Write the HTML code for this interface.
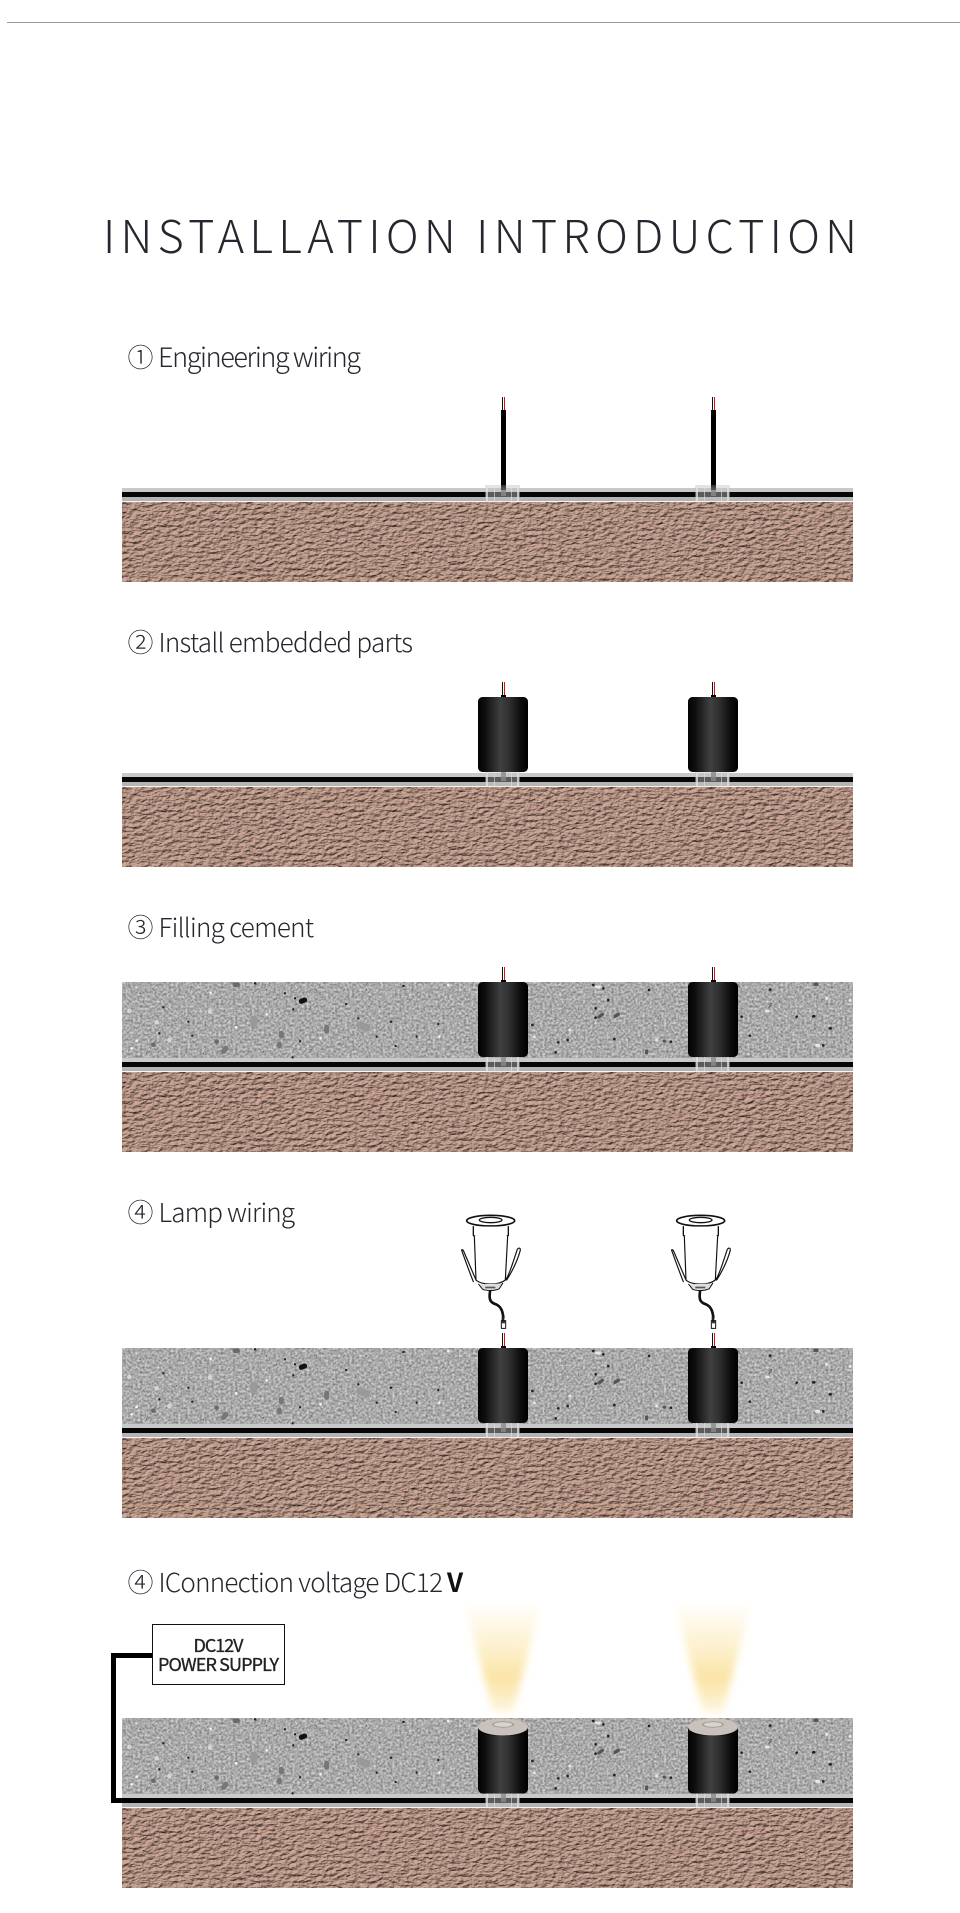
<!DOCTYPE html>
<html><head><meta charset="utf-8"><style>
html,body{margin:0;padding:0;background:#fff}
svg{display:block}
text{font-family:"Liberation Sans","Noto Sans CJK JP",sans-serif}
.c{font-family:"Noto Sans CJK JP","Noto Sans CJK SC",sans-serif;font-weight:300;fill:#26262e}
</style></head><body>
<svg xmlns="http://www.w3.org/2000/svg" width="960" height="1913" viewBox="0 0 960 1913">
<defs>
<linearGradient id="cy" x1="0" x2="1" y1="0" y2="0">
<stop offset="0" stop-color="#030303"/><stop offset=".14" stop-color="#0e0e0e"/><stop offset=".45" stop-color="#404040"/><stop offset=".62" stop-color="#303030"/><stop offset=".86" stop-color="#0c0c0c"/><stop offset="1" stop-color="#000"/>
</linearGradient>
<linearGradient id="beam" x1="0" x2="0" y1="0" y2="1">
<stop offset="0" stop-color="#fcecc0" stop-opacity="0"/><stop offset=".25" stop-color="#fcecc0" stop-opacity=".5"/><stop offset=".68" stop-color="#fae2a0" stop-opacity=".95"/><stop offset=".88" stop-color="#fbe8b4" stop-opacity=".75"/><stop offset="1" stop-color="#fdf0c8" stop-opacity=".6"/>
</linearGradient>
<filter id="bl" x="-40%" y="-20%" width="180%" height="140%"><feGaussianBlur stdDeviation="4"/></filter>
<filter id="terr" x="0" y="0" width="100%" height="100%" color-interpolation-filters="sRGB">
<feTurbulence type="fractalNoise" baseFrequency="0.16 0.3" numOctaves="3" seed="7" result="n"/>
<feDiffuseLighting in="n" surfaceScale="1.8" diffuseConstant="1.12" lighting-color="#bd9a8a"><feDistantLight azimuth="235" elevation="58"/></feDiffuseLighting>
<feGaussianBlur stdDeviation=".35"/>
</filter>
<filter id="conc" x="0" y="0" width="100%" height="100%" color-interpolation-filters="sRGB">
<feTurbulence type="fractalNoise" baseFrequency="0.42" numOctaves="3" seed="11"/>
<feColorMatrix values="0.55 0 0 0 0.39  0.55 0 0 0 0.39  0.55 0 0 0 0.39  0 0 0 0 1"/>
<feGaussianBlur stdDeviation=".35"/>
</filter>
<g id="terrain"><rect x="122" y="502" width="731" height="80" filter="url(#terr)"/></g>
<g id="coupler">
<rect x="485" y="485" width="35" height="17" fill="#c4c4c4" opacity=".45"/>
<rect x="486" y="485" width="2" height="17" fill="#e2e2e2" opacity=".75"/>
<rect x="517" y="485" width="2" height="17" fill="#e2e2e2" opacity=".75"/>
<rect x="494" y="485" width="1" height="17" fill="#e2e2e2" opacity=".6"/>
<rect x="511" y="485" width="1" height="17" fill="#e2e2e2" opacity=".6"/>
<rect x="501" y="487" width="5" height="9" fill="#8a8a8a" opacity=".8"/>
<rect x="485" y="501" width="35" height="1" fill="#eee"/>
</g>
<g id="base">
<use href="#terrain"/>
<rect x="122" y="488" width="731" height="4" fill="#c9c9c9"/>
<rect x="122" y="492" width="731" height="5" fill="#060606"/>
<rect x="122" y="497" width="731" height="4" fill="#b4b4b4"/>
<rect x="122" y="501" width="731" height="1" fill="#f4f4f4"/>
</g>
<g id="couplers"><use href="#coupler"/><use href="#coupler" x="210"/></g>
<g id="cyl">
<rect x="502" y="397" width="1" height="13" fill="#111"/><rect x="504" y="397" width="1" height="13" fill="#e01010"/>
<rect x="501" y="410" width="5" height="2" fill="#000"/>
<rect x="478" y="412" width="50" height="75" rx="4.5" fill="url(#cy)"/>
</g>
<g id="cyl2">
<path d="M478 424H528V483a4.5 4.5 0 0 1-4.5 4.500H482.500a4.500 4.500 0 0 1-4.500-4.500Z" fill="url(#cy)"/>
<path d="M478 421V426C484 431 522 431 528 426V421Z" fill="#0a0a0a"/>
<ellipse cx="503" cy="421" rx="25" ry="8.500" fill="#cbc1bc"/>
<ellipse cx="503" cy="418.500" rx="11" ry="3.200" fill="#a0a09a"/>
<ellipse cx="503" cy="418.500" rx="9" ry="2.300" fill="#d8d6cc"/>
</g>
<g id="concrete">
<rect x="122" y="412" width="731" height="76" filter="url(#conc)"/>
<g transform="translate(120,400) scale(.3333)" fill="none" stroke-linecap="round">
<path stroke="#222" stroke-width="7" d="M525 85h0M405 40h1M495 70h0M130 112h0M118 190h0M540 214h0M715 145h0M812 155h2M890 200h0M955 162h0M850 48h1M678 102h0M827 228h0M770 200h0M520 118h0M518 262h0M205 155h0M217 197h0"/>
<path stroke="#111" stroke-width="15" d="M544 94l10-4"/>
<path stroke="#6a6a6a" stroke-width="14" d="M345 44h8M100 224h0M290 215h0"/>
<path stroke="#777" stroke-width="15" d="M478 222v6M310 245l8-10M620 172v12M484 190v8"/>
<path stroke="#999" stroke-width="22" d="M402 148v14M720 165l20 8"/>
<path stroke="#d6d6d6" stroke-width="14" d="M110 157h0M148 210h0M28 123h0M270 125h0"/>
<path stroke="#f4f4f4" stroke-width="8" d="M440 133h0M50 213h0M35 235h0M958 200h0M348 172h0M272 68h0M985 45h0M602 205h0"/>
<path stroke="#555" stroke-width="4" d="M60 70h0M180 60h0M240 90h0M300 85h0M380 100h0M440 60h0M470 85h0M590 60h0M640 130h0M660 220h0M740 60h0M780 110h0M870 90h0M920 240h0M1000 110h0M1040 200h0M170 150h0M80 250h0M250 250h0M430 245h0M575 240h0M700 240h0"/>
</g>
<g transform="translate(525,405) scale(.3333)" fill="none" stroke-linecap="round">
<path stroke="#222" stroke-width="8" d="M205 30h0M235 40h0M372 45h0M250 75h0M212 100h0M212 128h0M22 150h0M100 202h0M92 232h0M268 192h0M438 200h0M735 44h1M650 125h0M895 211h0M815 125h0M865 124h3M915 160h2M675 182h0M128 195h0"/>
<path stroke="#555" stroke-width="10" d="M270 124l10-6M222 126l10-8M418 198h0M365 228v5M870 28h6"/>
<path stroke="#e8e8e8" stroke-width="9" d="M215 36h8M28 186h0M135 165h0M875 211h6M725 108h4M975 76h0M905 70h0M395 195h0"/>
<path stroke="#666" stroke-width="4" d="M90 134h0M160 102h0M330 80h0M430 90h0M350 130h0M400 130h0M310 190h0M200 175h0M285 186h0M60 210h0M455 178h0M770 185h0M740 85l-8 12M820 70h0M870 160h0M950 130h0M960 205h0M690 230h0M40 60h0M120 70h0"/>
</g>
</g>
<g id="lamp" fill="none" stroke="#111" stroke-width="4" stroke-linejoin="round" stroke-linecap="round">
<ellipse cx="152" cy="62" rx="72" ry="16" fill="#fff" stroke-width="5"/>
<ellipse cx="152" cy="60" rx="34" ry="8" stroke-width="4"/>
<path d="M100 80V106C120 122 185 122 205 106V80" fill="#fff"/>
<path d="M103 108L108 240C125 256 178 256 196 240L203 108" fill="#fff" stroke-width="3.500"/>
<path d="M100 245C82 200 72 170 66 154C62 146 70 148 72 156L108 240" fill="#fff" stroke-width="3.500"/>
<path d="M196 240C205 232 218 190 232 148C238 140 243 146 240 154C230 190 210 225 200 240" fill="#fff" stroke-width="3.500"/>
<path d="M116 253L128 268C140 273 165 273 178 266L188 250" fill="#ddd" stroke-width="3"/>
<rect x="136" y="260" width="30" height="5" fill="#555" stroke="none"/>
<path d="M150 275C146 300 152 308 168 313C184 320 188 335 190 352" stroke-width="8"/>
<rect x="185" y="350" width="8" height="14" fill="#222" stroke="none"/>
<rect x="184" y="362" width="13" height="23" fill="#fff" stroke-width="3"/>
<rect x="186" y="363" width="9" height="7" fill="#333" stroke="none"/>
</g>
</defs>
<rect width="960" height="1913" fill="#fff"/>
<rect x="7" y="22" width="953" height="1" fill="#9a9a9a"/>
<text class="c" x="103" y="253" font-size="45" textLength="754" lengthAdjust="spacing">INSTALLATION INTRODUCTION</text>

<text class="c" x="127.500" y="367" font-size="26">①</text>
<text class="c" x="158" y="367" font-size="27" textLength="203" lengthAdjust="spacing">Engineering wiring</text>
<use href="#base"/>
<g id="riser"><rect x="501" y="410" width="5" height="78" fill="#000"/><rect x="502" y="397" width="1" height="13" fill="#111"/><rect x="504" y="397" width="1" height="13" fill="#e01010"/></g>
<use href="#riser" x="210"/>
<use href="#couplers"/>
<rect x="501" y="485" width="5" height="5" fill="#222" opacity=".6"/><rect x="711" y="485" width="5" height="5" fill="#222" opacity=".6"/>

<text class="c" x="127.500" y="652" font-size="26">②</text>
<text class="c" x="158.500" y="652" font-size="26" textLength="254.500" lengthAdjust="spacing">Install embedded parts</text>
<g transform="translate(0,285)"><use href="#base"/><use href="#couplers"/><use href="#cyl"/><use href="#cyl" x="210"/></g>

<text class="c" x="127.500" y="937" font-size="26">③</text>
<text class="c" x="158.500" y="937" font-size="26" textLength="155.500" lengthAdjust="spacing">Filling cement</text>
<g transform="translate(0,570)"><use href="#base"/><use href="#concrete"/><use href="#couplers"/><use href="#cyl"/><use href="#cyl" x="210"/></g>

<text class="c" x="127.500" y="1222" font-size="26">④</text>
<text class="c" x="158.500" y="1222" font-size="26" textLength="136.500" lengthAdjust="spacing">Lamp wiring</text>
<g transform="translate(440,1200) scale(.3333)"><use href="#lamp"/></g>
<g transform="translate(650,1200) scale(.3333)"><use href="#lamp"/></g>
<g transform="translate(0,936)"><use href="#base"/><use href="#concrete"/><use href="#couplers"/><use href="#cyl"/><use href="#cyl" x="210"/></g>

<text class="c" x="127.500" y="1592" font-size="26">④</text>
<text class="c" x="158.500" y="1592" font-size="26" textLength="284.500" lengthAdjust="spacing">IConnection voltage DC12</text>
<text x="447" y="1592" font-size="26" font-weight="700" fill="#111" style="font-family:'Noto Sans CJK JP',sans-serif">V</text>
<g filter="url(#bl)">
<path d="M465 1603H541L513 1712H493Z" fill="url(#beam)"/>
<path d="M675 1603H751L723 1712H703Z" fill="url(#beam)"/>
</g>
<g transform="translate(0,1306)"><use href="#base"/><use href="#concrete"/><use href="#couplers"/><use href="#cyl2"/><use href="#cyl2" x="210"/></g>
<rect x="152.500" y="1624.500" width="132" height="60" fill="#fff" stroke="#111" stroke-width="1"/>
<text x="218.500" y="1652" font-size="18" text-anchor="middle" fill="#222" stroke="#222" stroke-width=".35" style="font-family:'Noto Sans CJK JP',sans-serif" textLength="50" lengthAdjust="spacing">DC12V</text>
<text x="218.500" y="1671" font-size="18" text-anchor="middle" fill="#222" stroke="#222" stroke-width=".35" style="font-family:'Noto Sans CJK JP',sans-serif" textLength="121" lengthAdjust="spacing">POWER SUPPLY</text>
<path d="M152 1655.500H113.500V1800.500H130" fill="none" stroke="#000" stroke-width="5"/>
</svg>
</body></html>
